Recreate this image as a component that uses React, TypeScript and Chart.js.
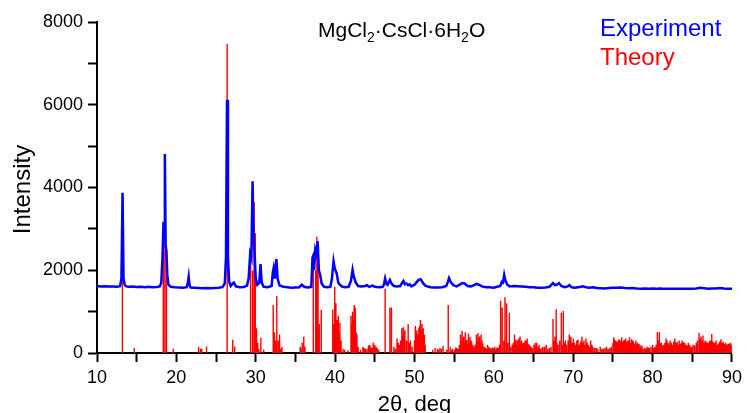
import { useEffect, useRef } from 'react';
import { Chart, registerables } from 'chart.js';

Chart.register(...registerables);

// ---------- data ----------
const chartTitleParts: [string, boolean][] = [
  ['MgCl', false], ['2', true], ['·CsCl·6H', false], ['2', true], ['O', false],
];
const seriesNames = ['Experiment', 'Theory'];
const xAxisTitle = '2θ, deg';
const yAxisTitle = 'Intensity';

const xMin = 10;
const xMax = 90;
const yMin = 0;
const yMax = 8000;

// experimental scan: [2θ, intensity]
const experimentScan: [number, number][] = [
  [10, 1620], [10.5, 1610], [11, 1615], [11.5, 1605], [12, 1610], [12.5, 1600], [12.9, 1615],
  [13.08, 1800], [13.22, 3870], [13.34, 1800], [13.5, 1640], [13.7, 1610],
  [14, 1600], [14.5, 1605], [15, 1595], [15.5, 1600], [16, 1590], [16.5, 1600], [17, 1590],
  [17.5, 1595], [17.9, 1610], [18.1, 1700], [18.25, 2300], [18.38, 3170], [18.45, 2900],
  [18.55, 4810], [18.65, 2600], [18.75, 2450], [18.85, 1900], [19.0, 1650], [19.3, 1600],
  [19.8, 1590], [20.3, 1585], [20.8, 1580], [21.3, 1590], [21.45, 1700], [21.55, 1840],
  [21.65, 1650], [21.8, 1580], [22.3, 1575], [22.8, 1570], [23.3, 1565], [23.8, 1570],
  [24.3, 1565], [24.8, 1570], [25.3, 1575], [25.8, 1590], [26.1, 1680], [26.25, 2300],
  [26.38, 6120], [26.5, 2300], [26.65, 1720], [26.85, 1620], [27.1, 1680], [27.25, 1700],
  [27.5, 1610], [28, 1590], [28.5, 1595], [28.9, 1630], [29.1, 1800], [29.3, 2400],
  [29.45, 2300], [29.6, 4150], [29.72, 2900], [29.85, 2400], [30.0, 1800], [30.2, 1650],
  [30.45, 1700], [30.6, 2150], [30.75, 1700], [31.0, 1600], [31.5, 1590], [32.0, 1620],
  [32.15, 1950], [32.25, 2050], [32.4, 1800], [32.6, 2270], [32.75, 1800], [33.0, 1630],
  [33.5, 1600], [34, 1590], [34.5, 1580], [35, 1585], [35.5, 1590], [35.8, 1650], [36.1, 1600],
  [36.5, 1585], [37.0, 1600], [37.15, 2300], [37.25, 2350], [37.35, 2000], [37.5, 2500],
  [37.65, 2400], [37.8, 2700], [37.95, 2000], [38.1, 1900], [38.3, 1680], [38.6, 1600],
  [39.0, 1590], [39.4, 1600], [39.6, 1800], [39.8, 2220], [39.95, 2050], [40.2, 1920],
  [40.4, 1700], [40.6, 1650], [40.9, 1600], [41.3, 1590], [41.7, 1600], [42.0, 1750],
  [42.2, 2010], [42.35, 1850], [42.6, 1700], [42.9, 1620], [43.3, 1610], [43.8, 1620],
  [44.0, 1640], [44.3, 1600], [44.7, 1630], [45.0, 1600], [45.5, 1590], [46.0, 1600],
  [46.15, 1650], [46.3, 1800], [46.45, 1680], [46.6, 1650], [46.9, 1765], [47.1, 1680],
  [47.4, 1620], [47.8, 1610], [48.2, 1620], [48.45, 1700], [48.6, 1740], [48.8, 1660],
  [49.0, 1680], [49.2, 1640], [49.4, 1660], [49.6, 1610], [50.0, 1650], [50.3, 1720],
  [50.5, 1765], [50.8, 1780], [51.1, 1680], [51.4, 1620], [52, 1590], [52.5, 1585],
  [53, 1585], [53.5, 1590], [54.0, 1620], [54.2, 1720], [54.35, 1810], [54.6, 1700],
  [54.9, 1640], [55.3, 1610], [55.7, 1650], [56.0, 1690], [56.3, 1680], [56.7, 1620],
  [57.1, 1610], [57.5, 1640], [57.8, 1670], [58.1, 1650], [58.5, 1610], [59, 1590],
  [59.5, 1590], [60, 1580], [60.3, 1595], [60.8, 1620], [61.0, 1720], [61.15, 1700],
  [61.3, 1885], [61.45, 1750], [61.7, 1650], [62.0, 1610], [62.5, 1620], [63, 1615],
  [63.5, 1610], [64, 1600], [64.5, 1590], [65, 1590], [65.5, 1575], [66, 1580], [66.5, 1585],
  [67.0, 1600], [67.3, 1660], [67.45, 1690], [67.7, 1640], [67.9, 1650], [68.2, 1690],
  [68.5, 1620], [68.9, 1590], [69.3, 1610], [69.5, 1640], [69.8, 1590], [70.2, 1580],
  [70.6, 1590], [71.0, 1600], [71.2, 1610], [71.6, 1590], [72.0, 1575], [72.5, 1590],
  [73.0, 1570], [73.5, 1565], [74, 1560], [74.5, 1570], [75, 1575], [75.5, 1580], [76, 1585],
  [76.5, 1570], [77, 1565], [77.5, 1570], [78, 1560], [78.5, 1555], [79, 1560], [79.5, 1555],
  [80, 1560], [80.5, 1555], [81, 1560], [81.5, 1550], [82, 1555], [82.5, 1555], [83, 1550],
  [83.5, 1555], [84, 1550], [84.5, 1555], [85, 1550], [85.5, 1560], [86, 1575], [86.5, 1565],
  [87, 1555], [87.5, 1560], [88, 1560], [88.5, 1570], [89, 1560], [89.5, 1555], [90, 1555],
];

// theoretical reflections (stick pattern): main lines
const theoryAngle = [
  13.2, 14.7, 18.35, 18.55, 18.75, 19.6, 22.8, 23.05, 23.2, 23.8, 26.4, 27.1, 27.35,
  29.35, 29.6, 29.8, 29.95, 30.1, 30.25, 30.65, 32.2, 32.35, 32.65, 32.85, 33.0, 33.3,
  35.6, 35.85, 36.05, 37.25, 37.55, 37.7, 37.85, 38.0, 38.25, 39.7, 39.95, 40.1, 40.25,
  40.4, 40.6, 41.0, 42.0, 42.2, 42.4, 42.55, 42.75, 42.9, 43.5, 43.8, 44.2, 44.5, 44.8,
  45.0, 45.3, 46.3, 46.9, 47.1, 47.4, 47.8, 48.1, 48.4, 48.6, 48.8, 49.2, 49.5, 50.1,
  50.3, 50.55, 50.75, 50.95, 51.1, 51.25, 52.6, 52.9, 53.2, 53.6, 54.25, 54.5, 54.8,
  55.2, 55.5, 55.8, 56.0, 56.2, 56.4, 56.6, 56.8, 57.0, 57.2, 57.35, 57.8, 58.0, 58.2,
  58.4, 58.6, 58.9, 59.2, 59.5, 59.8, 60.1, 60.4, 60.85, 61.05, 61.4, 61.6, 61.95, 62.3,
  62.6, 62.8, 63.0, 63.3, 63.5, 63.7, 63.95, 64.2, 64.4, 64.7, 65.2, 65.4, 65.7, 66.2,
  66.6, 67.0, 67.45, 67.7, 67.85, 68.1, 68.5, 68.75, 69.0, 69.5, 69.7, 70.0, 70.3, 70.6,
  70.9, 71.1, 71.35, 71.6, 71.9, 72.2, 72.5, 72.9, 73.4, 73.8, 74.2, 74.6, 75.1, 75.3,
  75.55, 75.8, 76.1, 76.35, 76.6, 76.9, 77.1, 77.35, 77.6, 77.9, 78.1, 78.4, 78.8, 79.3,
  79.6, 80.0, 80.3, 80.6, 80.85, 81.1, 81.4, 81.7, 81.95, 82.2, 82.5, 82.8, 83.1, 83.35,
  83.6, 83.9, 84.2, 84.5, 84.8, 85.1, 85.5, 85.85, 86.1, 86.35, 86.6, 86.9, 87.2, 87.45,
  87.7, 88.0, 88.3, 88.6, 88.9, 89.2, 89.5, 89.8,
];
const theoryIntensity = [
  3000, 120, 2600, 4300, 2500, 100, 150, 100, 100, 160, 7470, 320, 160,
  2300, 2000, 3650, 2900, 600, 250, 360, 1160, 500, 1380, 300, 450, 150,
  150, 250, 400, 2300, 2000, 2810, 2700, 700, 1040, 1050, 1600, 1200, 800,
  900, 730, 100, 900, 1000, 1160, 1100, 450, 150, 150, 100, 180, 150, 250,
  200, 120, 1550, 1100, 1100, 150, 350, 200, 600, 620, 550, 700, 300, 650,
  550, 600, 800, 700, 600, 450, 120, 100, 120, 170, 1160, 150, 100,
  130, 100, 450, 530, 400, 500, 320, 470, 380, 280, 200, 440, 480, 400,
  450, 230, 140, 200, 120, 130, 150, 140, 1265, 1100, 1350, 1200, 975, 200,
  450, 320, 300, 400, 300, 250, 300, 350, 220, 150, 250, 250, 200, 150,
  200, 120, 820, 400, 1060, 200, 975, 1015, 300, 450, 400, 350, 200, 320,
  250, 400, 300, 350, 200, 300, 150, 120, 150, 100, 150, 120, 380, 300,
  250, 330, 380, 300, 350, 300, 380, 330, 280, 300, 250, 200, 100, 150,
  120, 200, 150, 510, 500, 250, 200, 350, 250, 300, 200, 350, 280, 300,
  250, 260, 200, 250, 150, 200, 250, 490, 400, 420, 300, 250, 300, 460,
  250, 300, 230, 330, 280, 250, 220, 250,
];

// theoretical reflections: weak lines
const weakAngle = [
  30.4, 31.0, 32.5, 33.15, 35.7, 36.2, 39.85, 40.5, 40.75, 41.2, 41.6, 42.1, 42.3, 42.65,
  43.2, 43.65, 44.0, 44.35, 44.65, 44.9, 45.15, 45.5, 47.6, 47.95, 48.25, 48.5, 48.7, 49.0,
  49.35, 49.7, 50.0, 50.2, 50.45, 50.65, 50.85, 51.05, 51.35, 52.3, 53.0, 53.4, 54.05, 54.7,
  55.05, 55.35, 55.65, 55.9, 56.1, 56.3, 56.5, 56.7, 56.9, 57.1, 57.5, 57.65, 57.9, 58.1,
  58.3, 58.5, 58.75, 59.05, 59.35, 59.65, 59.95, 60.25, 60.55, 60.7, 61.25, 61.75, 62.1,
  62.45, 62.7, 62.9, 63.15, 63.4, 63.6, 63.85, 64.05, 64.3, 64.55, 64.85, 65.05, 65.3,
  65.55, 65.85, 66.05, 66.4, 66.8, 67.2, 67.55, 67.95, 68.3, 68.6, 68.9, 69.15, 69.35,
  69.6, 69.85, 70.15, 70.45, 70.75, 71.0, 71.25, 71.5, 71.75, 72.05, 72.35, 72.7, 73.1,
  73.6, 74.0, 74.4, 74.8, 75.0, 75.2, 75.45, 75.65, 75.9, 76.0, 76.25, 76.5, 76.75, 77.0,
  77.25, 77.5, 77.75, 78.0, 78.25, 78.55, 78.65, 79.0, 79.15, 79.45, 79.8, 80.15, 80.45,
  80.7, 80.95, 81.25, 81.55, 81.8, 82.05, 82.35, 82.65, 82.95, 83.2, 83.5, 83.75, 84.05,
  84.35, 84.65, 84.95, 85.3, 85.65, 85.95, 86.25, 86.5, 86.75, 87.05, 87.35, 87.6, 87.85,
  88.15, 88.45, 88.75, 89.05, 89.35, 89.65, 89.9,
];
const weakIntensity = [
  100, 80, 300, 100, 100, 150, 700, 500, 300, 80, 60, 700, 800, 500,
  80, 120, 100, 200, 120, 150, 150, 80, 100, 250, 300, 400, 500, 300,
  250, 150, 300, 500, 450, 650, 550, 500, 200, 80, 80, 100, 80, 80,
  80, 120, 200, 300, 350, 250, 300, 200, 250, 300, 150, 200, 300, 350,
  250, 300, 150, 100, 150, 100, 120, 100, 120, 200, 300, 250, 150,
  250, 300, 200, 350, 250, 200, 250, 300, 200, 180, 120, 200, 150,
  150, 100, 120, 150, 100, 150, 300, 250, 300, 200, 250, 200, 300,
  350, 250, 250, 300, 200, 300, 250, 200, 250, 150, 200, 120, 100,
  100, 120, 100, 150, 250, 320, 280, 300, 250, 300, 280, 320, 280, 300,
  250, 300, 230, 200, 220, 150, 180, 120, 100, 130, 150, 120, 200,
  300, 250, 180, 250, 300, 200, 250, 280, 250, 200, 220, 300, 250,
  180, 200, 150, 180, 300, 350, 300, 250, 280, 250, 300, 280, 250,
  200, 280, 250, 220, 200, 230, 200,
];

// ---------- styling ----------
const FONT = '"Liberation Sans", Arial, sans-serif';

const textPlugin = {
  id: 'xrdTexts',
  afterDraw(chart: any) {
    const ctx = chart.ctx as CanvasRenderingContext2D;
    const area = chart.chartArea;
    ctx.save();
    ctx.textBaseline = 'alphabetic';
    ctx.textAlign = 'left';
    // formula title
    ctx.fillStyle = '#000000';
    let x = 318;
    const y = 37;
    for (const [t, sub] of chartTitleParts) {
      ctx.font = sub ? `14px ${FONT}` : `21px ${FONT}`;
      ctx.fillText(t, x, sub ? y + 5 : y);
      x += ctx.measureText(t).width;
    }
    // series labels
    ctx.font = `24px ${FONT}`;
    ctx.fillStyle = '#0000ff';
    ctx.fillText(seriesNames[0], 600, 36);
    ctx.fillStyle = '#ff0000';
    ctx.fillText(seriesNames[1], 600, 65);
    // axis titles
    ctx.fillStyle = '#000000';
    ctx.font = `22px ${FONT}`;
    ctx.textAlign = 'center';
    ctx.fillText(xAxisTitle, (area.left + area.right) / 2, 411);
    ctx.save();
    ctx.translate(30, (area.top + area.bottom) / 2 + 2);
    ctx.rotate(-Math.PI / 2);
    ctx.font = `24px ${FONT}`;
    ctx.fillText(yAxisTitle, 0, 0);
    ctx.restore();
    ctx.restore();
  },
};

function sticks(angles: number[], values: number[]) {
  const out: { x: number; y: number | null }[] = [];
  angles.forEach((x, i) => {
    out.push({ x, y: 0 }, { x, y: values[i] }, { x, y: null });
  });
  return out;
}

export default function App() {
  const canvasRef = useRef<HTMLCanvasElement | null>(null);

  useEffect(() => {
    document.body.style.margin = '0';
    const canvas = canvasRef.current;
    if (!canvas) return;

    const experimentData = experimentScan.map(([x, y]) => ({ x, y }));
    const theoryData = sticks(theoryAngle, theoryIntensity).concat(sticks(weakAngle, weakIntensity));

    const chart = new Chart(canvas, {
      type: 'line',
      data: {
        datasets: [
          {
            label: seriesNames[0],
            data: experimentData,
            borderColor: '#0000ff',
            borderWidth: 2.5,
            pointRadius: 0,
            tension: 0,
            fill: false,
          },
          {
            label: seriesNames[1],
            data: theoryData as any,
            borderColor: '#ff0000',
            borderWidth: 1.4,
            pointRadius: 0,
            tension: 0,
            spanGaps: false,
            fill: false,
          },
        ],
      },
      options: {
        animation: false,
        responsive: false,
        maintainAspectRatio: false,
        events: [],
        parsing: true,
        layout: { padding: { top: 22, right: 11, left: 0, bottom: 0 } },
        plugins: {
          legend: { display: false },
          title: { display: false },
          tooltip: { enabled: false },
        },
        scales: {
          x: {
            type: 'linear',
            min: xMin,
            max: xMax,
            afterFit: (scale: any) => { scale.height = 60; },
            border: { display: true, color: '#000000', width: 2 },
            grid: {
              drawOnChartArea: false,
              drawTicks: true,
              tickLength: 9,
              tickColor: '#000000',
              tickWidth: 2,
            },
            ticks: {
              stepSize: 5,
              autoSkip: false,
              maxRotation: 0,
              padding: 5,
              color: '#000000',
              font: { family: FONT, size: 18 },
              callback: (v: any) => (Number(v) % 10 === 0 ? String(v) : ''),
            },
          },
          y: {
            type: 'linear',
            min: yMin,
            max: yMax,
            afterFit: (scale: any) => { scale.width = 97; },
            border: { display: true, color: '#000000', width: 2 },
            grid: {
              drawOnChartArea: false,
              drawTicks: true,
              tickLength: 9,
              tickColor: '#000000',
              tickWidth: 2,
            },
            ticks: {
              stepSize: 1000,
              autoSkip: false,
              padding: 5,
              color: '#000000',
              font: { family: FONT, size: 18 },
              callback: (v: any) => (Number(v) % 2000 === 0 ? String(v) : ''),
            },
          },
        },
      },
      plugins: [textPlugin],
    });

    return () => chart.destroy();
  }, []);

  return (
    <div style={{ position: 'absolute', left: 0, top: 0, width: 747, height: 413, background: '#ffffff' }}>
      <canvas ref={canvasRef} width={747} height={413} style={{ display: 'block', width: 747, height: 413 }} />
    </div>
  );
}
